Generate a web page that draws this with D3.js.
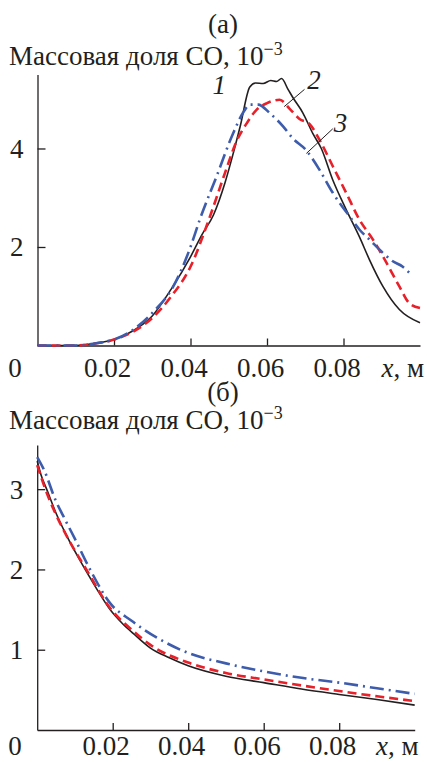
<!DOCTYPE html>
<html>
<head>
<meta charset="utf-8">
<script src="https://cdn.jsdelivr.net/npm/d3@7"></script>
<style>
  body { margin: 0; background: #fff; }
  svg { display: block; }
  text { font-family: "Liberation Serif", "DejaVu Serif", serif; fill: #231f20; }
  .axis path, .axis line { stroke: #231f20; stroke-width: 1.3; }
</style>
</head>
<body>
<div class="chart"></div>
<script>
// -------------------------------------------------------------------------
// Data (x in m, mass fraction in 1e-3)

const xTicks = [0.02, 0.04, 0.06, 0.08];
const xTickLabels = ['0.02', '0.04', '0.06', '0.08'];
const yTicksA = [2, 4];
const yTicksB = [1, 2, 3];
const panelTitles = ['(а)', '(б)'];
const curveNames = ['1', '2', '3'];

// panel (a)
const a1 = [
  [0, 0], [0.01, 0.0], [0.015, 0.04], [0.02, 0.12], [0.025, 0.3], [0.03, 0.6],
  [0.035, 1.15], [0.04, 1.8], [0.043, 2.25], [0.046, 2.65], [0.049, 3.3],
  [0.051, 3.85], [0.053, 4.45], [0.0555, 5.25], [0.057, 5.33], [0.059, 5.32],
  [0.061, 5.38], [0.0625, 5.36], [0.0638, 5.42], [0.0655, 5.2], [0.0668, 5.03],
  [0.0694, 4.72], [0.072, 4.3], [0.0742, 4.0], [0.0772, 3.36], [0.0807, 2.76],
  [0.0842, 2.2], [0.0868, 1.74], [0.0903, 1.2], [0.0946, 0.73], [0.1, 0.46]
];
const a2 = [
  [0, 0], [0.01, 0.0], [0.015, 0.04], [0.02, 0.12], [0.025, 0.28], [0.03, 0.56],
  [0.035, 1.0], [0.04, 1.6], [0.045, 2.6], [0.049, 3.5], [0.052, 4.14],
  [0.0546, 4.5], [0.0572, 4.78], [0.06, 4.92], [0.0633, 4.99], [0.066, 4.8],
  [0.0685, 4.6], [0.0711, 4.5], [0.0737, 4.18], [0.0772, 3.64], [0.0807, 3.1],
  [0.0842, 2.55], [0.0877, 2.15], [0.0903, 1.81], [0.0946, 1.2], [0.0972, 0.86],
  [0.1, 0.76]
];
const a3 = [
  [0, 0], [0.01, 0.0], [0.015, 0.04], [0.02, 0.12], [0.025, 0.32], [0.03, 0.66],
  [0.0355, 1.2], [0.04, 2.0], [0.0424, 2.55], [0.0468, 3.43], [0.0511, 4.3],
  [0.0537, 4.72], [0.0555, 4.89], [0.0577, 4.89], [0.0607, 4.72], [0.0642, 4.45],
  [0.0668, 4.2], [0.0703, 3.96], [0.0737, 3.57], [0.0772, 3.1], [0.0816, 2.62],
  [0.0842, 2.35], [0.0868, 2.15], [0.0903, 1.88], [0.0929, 1.71], [0.0955, 1.6],
  [0.0978, 1.43]
];

// panel (б)
const b1 = [
  [0, 3.35], [0.001, 3.18], [0.0025, 3.0], [0.005, 2.7], [0.0078, 2.42],
  [0.0127, 2.0], [0.016, 1.74], [0.0193, 1.5], [0.0225, 1.33], [0.0255, 1.2],
  [0.03, 1.02], [0.035, 0.9], [0.04, 0.8], [0.05, 0.67], [0.06, 0.59],
  [0.07, 0.51], [0.08, 0.443], [0.09, 0.38], [0.1, 0.31]
];
const b2 = [
  [0, 3.3], [0.002, 3.02], [0.005, 2.68], [0.008, 2.4], [0.013, 2.0],
  [0.0193, 1.52], [0.0255, 1.23], [0.03, 1.06], [0.04, 0.84], [0.05, 0.71],
  [0.06, 0.63], [0.07, 0.555], [0.08, 0.485], [0.09, 0.42], [0.1, 0.36]
];
const b3 = [
  [0, 3.4], [0.002, 3.22], [0.0047, 2.88], [0.0074, 2.62], [0.01, 2.38],
  [0.014, 2.0], [0.0193, 1.58], [0.025, 1.36], [0.0317, 1.15], [0.04, 0.96],
  [0.05, 0.83], [0.06, 0.73], [0.07, 0.65], [0.08, 0.59], [0.09, 0.52],
  [0.1, 0.45]
];

// -------------------------------------------------------------------------
// Layout

const width = 427;
const height = 762;
const fontSize = 27;

const seriesStyles = [
  { color: '#231f20', width: 1.6, dash: null },
  { color: '#e8202a', width: 2.6, dash: '9,5' },
  { color: '#3d5cac', width: 2.6, dash: '14,5,2,5' }
];

const panels = [
  {
    title: panelTitles[0], titleY: 33, labelY: 65,
    series: [a1, a2, a3], yTicks: yTicksA, yMax: 5.5,
    xRange: [37.5, 420], yRange: [345.5, 74.6], tickLabelY: 377
  },
  {
    title: panelTitles[1], titleY: 401, labelY: 429,
    series: [b1, b2, b3], yTicks: yTicksB, yMax: 3.55,
    xRange: [37.2, 414.7], yRange: [730, 445], tickLabelY: 755
  }
];

const svg = d3
  .select('.chart')
  .append('svg')
  .attr('width', width)
  .attr('height', height);

function drawPanel(panel, index) {
  const x = d3.scaleLinear().domain([0, 0.1]).range(panel.xRange);
  const y = d3.scaleLinear().domain([0, panel.yMax]).range(panel.yRange);
  const g = svg.append('g').attr('class', `panel panel-${index}`);
  const bottom = panel.yRange[0];

  g.append('text')
    .attr('x', 223)
    .attr('y', panel.titleY)
    .attr('text-anchor', 'middle')
    .attr('font-size', fontSize)
    .text(panel.title);

  const label = g.append('text')
    .attr('x', 9)
    .attr('y', panel.labelY)
    .attr('font-size', fontSize);
  label.append('tspan').text('Массовая доля СО, 10');
  label.append('tspan')
    .attr('dy', -10)
    .attr('font-size', 18)
    .text('−3');

  // x axis, ticks point inward, labels sit a little left of the tick
  const xAxis = g.append('g')
    .attr('class', 'axis')
    .attr('transform', `translate(0,${bottom})`)
    .call(
      d3.axisBottom(x)
        .tickValues(xTicks)
        .tickFormat((d, i) => xTickLabels[i])
        .tickSizeInner(-7)
        .tickSizeOuter(0)
    );
  xAxis.selectAll('text')
    .attr('font-size', fontSize)
    .attr('x', -7)
    .attr('y', panel.tickLabelY - bottom)
    .attr('dy', 0);

  const yAxis = g.append('g')
    .attr('class', 'axis')
    .attr('transform', `translate(${panel.xRange[0]},0)`)
    .call(
      d3.axisLeft(y)
        .tickValues(panel.yTicks)
        .tickFormat(d3.format('d'))
        .tickSizeInner(-8)
        .tickSizeOuter(0)
    );
  yAxis.selectAll('text')
    .attr('font-size', fontSize)
    .attr('x', -14)
    .attr('dy', '0.33em');
  g.selectAll('.axis text').style('font-family', '"Liberation Serif", serif').attr('fill', '#231f20');

  g.append('text')
    .attr('x', 15)
    .attr('y', panel.tickLabelY)
    .attr('text-anchor', 'middle')
    .attr('font-size', fontSize)
    .text('0');

  const unit = g.append('text')
    .attr('x', panel.xRange[1] + 4)
    .attr('y', panel.tickLabelY)
    .attr('text-anchor', 'end')
    .attr('font-size', fontSize);
  unit.append('tspan').attr('font-style', 'italic').text('x');
  unit.append('tspan').text(', м');

  const line = d3.line()
    .x(d => x(d[0]))
    .y(d => y(d[1]))
    .curve(d3.curveMonotoneX);

  panel.series.forEach((data, i) => {
    const style = seriesStyles[i];
    g.append('path')
      .datum(data)
      .attr('fill', 'none')
      .attr('stroke', style.color)
      .attr('stroke-width', style.width)
      .attr('stroke-dasharray', style.dash)
      .attr('d', line);
  });

  return { x, y, g };
}

const drawn = panels.map(drawPanel);

// curve numbers with leader lines, panel (а) only
const pa = drawn[0];
const callouts = [
  { name: curveNames[0], tx: 0.0475, ty: 5.1, from: null, to: null },
  { name: curveNames[1], tx: 0.0723, ty: 5.2, from: [0.0698, 5.2], to: [0.0645, 4.85] },
  { name: curveNames[2], tx: 0.0792, ty: 4.33, from: [0.0772, 4.4], to: [0.0703, 3.9] }
];
callouts.forEach(c => {
  if (c.from) {
    pa.g.append('line')
      .attr('x1', pa.x(c.from[0]))
      .attr('y1', pa.y(c.from[1]))
      .attr('x2', pa.x(c.to[0]))
      .attr('y2', pa.y(c.to[1]))
      .attr('stroke', '#231f20')
      .attr('stroke-width', 1);
  }
  pa.g.append('text')
    .attr('x', pa.x(c.tx))
    .attr('y', pa.y(c.ty))
    .attr('text-anchor', 'middle')
    .attr('font-size', fontSize)
    .attr('font-style', 'italic')
    .text(c.name);
});
</script>
</body>
</html>
